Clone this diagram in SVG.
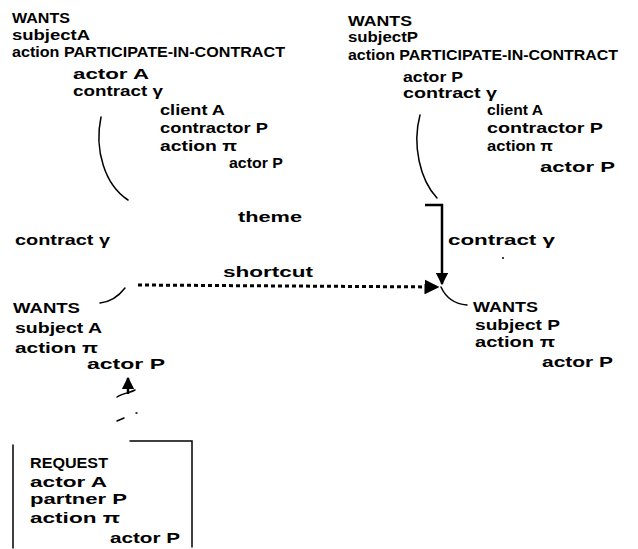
<svg xmlns="http://www.w3.org/2000/svg" width="638" height="549" viewBox="0 0 638 549">
<style>
text{font-family:"Liberation Sans",Arial,sans-serif;font-weight:bold;font-size:14px;fill:#000}
.ln{fill:none;stroke:#000;stroke-width:1.5;stroke-linecap:round}
.thick{fill:none;stroke:#000;stroke-width:2.5}
.dot{fill:none;stroke:#000;stroke-width:3;stroke-dasharray:4 3}
</style>
<defs>
<marker id="ah" viewBox="0 0 10 10" refX="9" refY="5" markerWidth="5" markerHeight="5" orient="auto"><path d="M0,0 L10,5 L0,10 z" fill="#000"/></marker>
</defs>
<rect width="638" height="549" fill="#fff"/>
<g id="wantsA-top">
<text x="12" y="23" textLength="58" lengthAdjust="spacingAndGlyphs">WANTS</text>
<text x="12" y="40" textLength="78" lengthAdjust="spacingAndGlyphs">subjectA</text>
<text x="12" y="57" textLength="273" lengthAdjust="spacingAndGlyphs">action PARTICIPATE-IN-CONTRACT</text>
<text x="73" y="79" textLength="76" lengthAdjust="spacingAndGlyphs">actor A</text>
<text x="73" y="96" textLength="90" lengthAdjust="spacingAndGlyphs">contract γ</text>
<text x="160" y="115" textLength="65" lengthAdjust="spacingAndGlyphs">client A</text>
<text x="160" y="133" textLength="108" lengthAdjust="spacingAndGlyphs">contractor P</text>
<text x="160" y="151" textLength="77" lengthAdjust="spacingAndGlyphs">action π</text>
<text x="229" y="168" textLength="54" lengthAdjust="spacingAndGlyphs">actor P</text>
</g>
<g id="wantsP-top">
<text x="348" y="26" textLength="64" lengthAdjust="spacingAndGlyphs">WANTS</text>
<text x="348" y="42" textLength="70" lengthAdjust="spacingAndGlyphs">subjectP</text>
<text x="348" y="60" textLength="270" lengthAdjust="spacingAndGlyphs">action PARTICIPATE-IN-CONTRACT</text>
<text x="403" y="82" textLength="60" lengthAdjust="spacingAndGlyphs">actor P</text>
<text x="403" y="98" textLength="94" lengthAdjust="spacingAndGlyphs">contract γ</text>
<text x="487" y="115" textLength="56" lengthAdjust="spacingAndGlyphs">client A</text>
<text x="487" y="133" textLength="116" lengthAdjust="spacingAndGlyphs">contractor P</text>
<text x="487" y="151" textLength="66" lengthAdjust="spacingAndGlyphs">action π</text>
<text x="540" y="172" textLength="75" lengthAdjust="spacingAndGlyphs">actor P</text>
</g>
<g id="wantsA-bottom">
<text x="13" y="313" textLength="67" lengthAdjust="spacingAndGlyphs">WANTS</text>
<text x="15" y="333" textLength="87" lengthAdjust="spacingAndGlyphs">subject A</text>
<text x="15" y="353" textLength="83" lengthAdjust="spacingAndGlyphs">action π</text>
<text x="87" y="369" textLength="78" lengthAdjust="spacingAndGlyphs">actor P</text>
</g>
<g id="wantsP-bottom">
<text x="473" y="312" textLength="65" lengthAdjust="spacingAndGlyphs">WANTS</text>
<text x="475" y="330" textLength="85" lengthAdjust="spacingAndGlyphs">subject P</text>
<text x="475" y="347" textLength="80" lengthAdjust="spacingAndGlyphs">action π</text>
<text x="542" y="367" textLength="71" lengthAdjust="spacingAndGlyphs">actor P</text>
</g>
<g id="request">
<path class="ln" d="M130,441 L192,441 L192,547 M13,445 L13,548"/>
<text x="30" y="468" textLength="78" lengthAdjust="spacingAndGlyphs">REQUEST</text>
<text x="30" y="487" textLength="77" lengthAdjust="spacingAndGlyphs">actor A</text>
<text x="30" y="504" textLength="97" lengthAdjust="spacingAndGlyphs">partner P</text>
<text x="30" y="523" textLength="90" lengthAdjust="spacingAndGlyphs">action π</text>
<text x="110" y="543" textLength="70" lengthAdjust="spacingAndGlyphs">actor P</text>
</g>
<g id="connectors">
<path class="ln" d="M101,117 C94,150 105,185 128,200"/>
<path class="ln" d="M420,115 C412,145 420,180 437,198"/>
<path class="ln" d="M100,303 C110,302 118,297 125,288"/>
<path class="ln" d="M441,287 C446,298 455,304 467,305"/>
<path class="thick" d="M425,205 L442,205 L442,284" marker-end="url(#ah)"/>
<path class="dot" d="M138,285 L438,287" marker-end="url(#ah)"/>
<path class="ln" d="M117,421 L124,418 M136,413 L137,413"/>
<path class="thick" d="M128,394 L128,378" marker-end="url(#ah)"/>
<path class="ln" d="M117,397 C123,393 130,393 135,390"/>
<circle cx="503" cy="258" r="1" fill="#000"/>
<text x="238" y="222" textLength="64" lengthAdjust="spacingAndGlyphs">theme</text>
<text x="223" y="277" textLength="90" lengthAdjust="spacingAndGlyphs">shortcut</text>
<text x="15" y="245" textLength="95" lengthAdjust="spacingAndGlyphs">contract γ</text>
<text x="448" y="245" textLength="107" lengthAdjust="spacingAndGlyphs">contract γ</text>
</g>
</svg>
